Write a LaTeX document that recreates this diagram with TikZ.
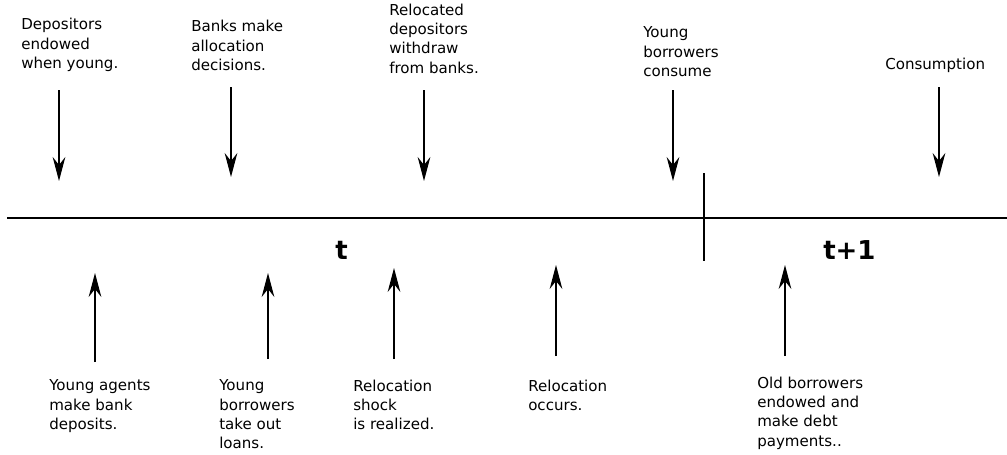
\documentclass[tikz,border=0pt]{standalone}
\usepackage{fontspec}
\setmainfont{DejaVu Sans}
\usetikzlibrary{arrows.meta}
\begin{document}
\begin{tikzpicture}[x=0.75pt,y=-0.75pt,
  lbl/.style={anchor=north west,inner sep=0pt,align=left,font=\fontsize{11.3}{14.5}\selectfont},
  per/.style={anchor=base west,inner sep=0pt,font=\fontsize{19.5}{22}\selectfont\bfseries},
  axis/.style={line width=1pt},
  evarrow/.style={line width=1pt,-{Stealth[length=18pt,width=9.5pt,inset=6pt]}}]
\useasboundingbox (0,0) rectangle (1007,454);
% time axis
\coordinate (axL) at (7,218);
\coordinate (axR) at (1007,218);
\draw[axis] (axL) -- (axR);
\coordinate (tkT) at (704,173);
\coordinate (tkB) at (704,261);
\draw[axis] (tkT) -- (tkB);
\node[per] (pt) at (335,259) {t};
\node[per] (pt1) at (823,259) {t+1};
% top labels
\node[lbl] (a1) at (21,18) {Depositors\\endowed\\when young.};
\node[lbl] (a2) at (191,20) {Banks make\\allocation\\decisions.};
\node[lbl] (a3) at (389,3.5) {Relocated\\depositors\\withdraw\\from banks.};
\node[lbl] (a4) at (643,26.5) {Young\\borrowers\\consume};
\node[lbl] (a5) at (885,58) {Consumption};
% top arrows
\coordinate (d1s) at (59,90);  \coordinate (d1e) at (59,181);
\coordinate (d2s) at (231,87); \coordinate (d2e) at (231,177);
\coordinate (d3s) at (424,90); \coordinate (d3e) at (424,181);
\coordinate (d4s) at (673,90); \coordinate (d4e) at (673,181);
\coordinate (d5s) at (939,87); \coordinate (d5e) at (939,177);
\foreach \i in {1,...,5} {\draw[evarrow] (d\i s) -- (d\i e);}
% bottom arrows
\coordinate (u1s) at (95,362);  \coordinate (u1e) at (95,273);
\coordinate (u2s) at (268,359); \coordinate (u2e) at (268,273);
\coordinate (u3s) at (394,359); \coordinate (u3e) at (394,268);
\coordinate (u4s) at (556,356); \coordinate (u4e) at (556,265);
\coordinate (u5s) at (785,356); \coordinate (u5e) at (785,265);
\foreach \i in {1,...,5} {\draw[evarrow] (u\i s) -- (u\i e);}
% bottom labels
\node[lbl] (b1) at (49,379.5) {Young agents\\make bank\\deposits.};
\node[lbl] (b2) at (219,379.5) {Young\\borrowers\\take out\\loans.};
\node[lbl] (b3) at (353,379.5) {Relocation\\shock\\is realized.};
\node[lbl] (b4) at (528,379.5) {Relocation\\occurs.};
\node[lbl] (b5) at (757,376.5) {Old borrowers\\endowed and\\make debt\\payments..};
\end{tikzpicture}
\end{document}
